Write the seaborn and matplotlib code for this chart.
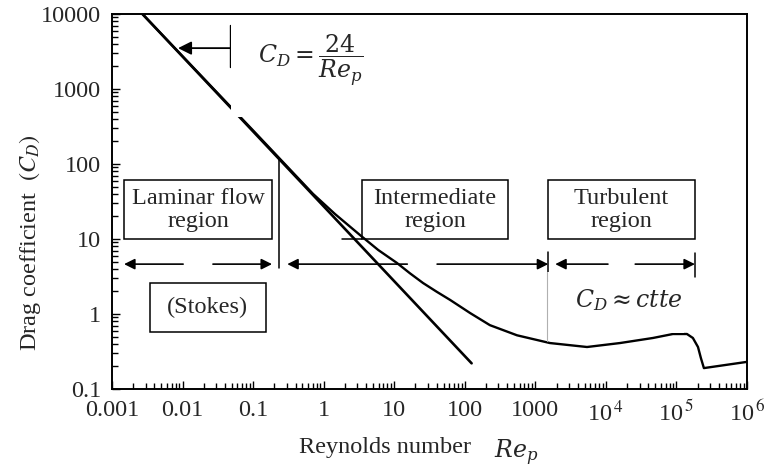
import matplotlib
matplotlib.use("Agg")
import matplotlib.pyplot as plt
from matplotlib.patches import Rectangle
from matplotlib.ticker import FixedLocator, FixedFormatter, LogLocator, NullFormatter
import seaborn as sns
import pandas as pd

# Drag curve of a sphere, C_D against particle Reynolds number
re_curve = [0.0027, 0.1, 0.706, 1.45, 3.27, 5.94, 10.9, 16.7, 25.6, 40, 62,
            119, 227, 550, 1610, 5400, 15850, 46500, 89000, 141000, 171000,
            202000, 222000, 245000, 1000000]
cd_curve = [10000, 280, 40, 21.5, 11.3, 7.13, 4.8, 3.49, 2.59, 1.98, 1.54,
            1.03, 0.71, 0.52, 0.41, 0.363, 0.41, 0.479, 0.541, 0.541, 0.479,
            0.363, 0.259, 0.19, 0.23]

# Stokes law line
re_stokes = [0.0027, 125]
cd_stokes = [10000, 0.22]

x_ticks = [1e-3, 1e-2, 1e-1, 1, 10, 100, 1000, 1e4, 1e5, 1e6]
x_tick_labels = ["0.001", "0.01", "0.1", "1", "10", "100", "1000",
                 r"10$^{\,4}$", r"10$^{\,5}$", r"10$^{\,6}$"]
y_ticks = [0.1, 1, 10, 100, 1000, 10000]
y_tick_labels = ["0.1", "1", "10", "100", "1000", "10000"]

sns.set_theme(style="white")
plt.rcParams["font.family"] = ["Liberation Serif", "DejaVu Serif"]
plt.rcParams["mathtext.fontset"] = "stix"

fig = plt.figure(figsize=(7.69, 4.68), dpi=100)
ax = fig.add_axes([112 / 769, 1 - 389 / 468, 635 / 769, 375 / 468])

curve_df = pd.DataFrame({"Re": re_curve, "CD": cd_curve})
stokes_df = pd.DataFrame({"Re": re_stokes, "CD": cd_stokes})
sns.lineplot(data=stokes_df, x="Re", y="CD", ax=ax, color="black", lw=1.9,
             sort=False, zorder=2)
sns.lineplot(data=curve_df, x="Re", y="CD", ax=ax, color="black", lw=1.7,
             sort=False, zorder=2)
ax.lines[-1].set_solid_joinstyle("round")

ax.set_xscale("log")
ax.set_yscale("log")
ax.set_xlim(1e-3, 1e6)
ax.set_ylim(0.1, 10000)

ax.xaxis.set_major_locator(FixedLocator(x_ticks))
ax.xaxis.set_major_formatter(FixedFormatter(x_tick_labels))
ax.yaxis.set_major_locator(FixedLocator(y_ticks))
ax.yaxis.set_major_formatter(FixedFormatter(y_tick_labels))
ax.xaxis.set_minor_locator(LogLocator(base=10, subs=range(2, 10), numticks=20))
ax.yaxis.set_minor_locator(LogLocator(base=10, subs=range(2, 10), numticks=20))
ax.xaxis.set_minor_formatter(NullFormatter())
ax.yaxis.set_minor_formatter(NullFormatter())
ax.tick_params(which="both", direction="in", bottom=True, left=True,
               top=False, right=False, color="black", width=1.0)
ax.tick_params(which="major", length=6, labelsize=17.5, pad=8)
ax.tick_params(which="minor", length=4)
for sp in ax.spines.values():
    sp.set_color("black")
    sp.set_linewidth(1.4)

ax.set_xlabel("Reynolds number", fontsize=17.5)
ax.xaxis.set_label_coords(0.43, -0.155)
ax.xaxis.label.set_va("center")
ax.set_ylabel(r"Drag coefficient  $(C_D)$", fontsize=17.5)
ax.yaxis.set_label_coords(-0.129, 0.39)
ax.yaxis.label.set_va("center")

T = ax.transAxes
box_kw = dict(fill=False, ec="black", lw=1.1, transform=T, zorder=3)

# Region boxes
for x0, w, label in [(0.019, 0.233, "Laminar flow\nregion"),
                     (0.394, 0.230, "Intermediate\nregion"),
                     (0.687, 0.231, "Turbulent\nregion")]:
    ax.add_patch(Rectangle((x0, 0.40), w, 0.157, **box_kw))
    ax.text(x0 + w / 2, 0.478, label, transform=T, ha="center", va="center",
            fontsize=17.5, linespacing=1.1, zorder=4)
ax.plot([0.362, 0.394], [0.40, 0.40], color="black", lw=1.1, transform=T, zorder=3)

ax.add_patch(Rectangle((0.0598, 0.152), 0.183, 0.131, **box_kw))
ax.text(0.151, 0.218, "(Stokes)", transform=T, ha="center", va="center",
        fontsize=17.5, zorder=4)

# Region extent arrows
arrow_kw = dict(arrowstyle="-|>", color="black", lw=1.2, mutation_scale=16,
                shrinkA=0, shrinkB=0)
y_arr = 0.333
for tail, tip in [(0.112, 0.019), (0.159, 0.252), (0.465, 0.276),
                  (0.512, 0.687), (0.781, 0.698), (0.824, 0.918)]:
    ax.annotate("", xy=(tip, y_arr), xytext=(tail, y_arr), xycoords=T,
                textcoords=T, arrowprops=arrow_kw, zorder=4)

ax.plot([0.263, 0.263], [0.323, 0.611], color="black", lw=1.1, transform=T, zorder=3)
ax.plot([0.687, 0.687], [0.312, 0.365], color="black", lw=1.1, transform=T, zorder=3)
ax.plot([0.918, 0.918], [0.299, 0.363], color="black", lw=1.1, transform=T, zorder=3)

# Pointer to the Stokes line
ax.plot([0.186, 0.186], [0.859, 0.971], color="black", lw=1.0, transform=T, zorder=3)
ax.annotate("", xy=(0.104, 0.909), xytext=(0.186, 0.909), xycoords=T,
            textcoords=T, arrowprops=dict(arrowstyle="-|>", color="black", lw=1.3,
                                          mutation_scale=20, shrinkA=0, shrinkB=0),
            zorder=4)

# Equation labels on white backgrounds
ax.add_patch(Rectangle((0.187, 0.725), 0.267, 0.264, fc="white", ec="none",
                       transform=T, zorder=5))
ax.text(0.313, 0.877, r"$C_D = \dfrac{24}{Re_p}$", transform=T, ha="center",
        va="center", fontsize=17, math_fontfamily="dejavuserif", zorder=6)

ax.add_patch(Rectangle((0.685, 0.149), 0.216, 0.163, fc="white", ec="none",
                       transform=T, zorder=5))
ax.plot([0.685, 0.685], [0.128, 0.312], color="#b0b0b0", lw=0.8, transform=T, zorder=6)
ax.text(0.814, 0.237, r"$C_D \approx ctte$", transform=T, ha="center",
        va="center", fontsize=17, math_fontfamily="dejavuserif", zorder=6)

fig.text(516 / 769, 1 - 453 / 468, r"$Re_p$", ha="center", va="center",
         fontsize=17, math_fontfamily="dejavuserif")

fig.savefig("out.png", dpi=100, facecolor="white")
